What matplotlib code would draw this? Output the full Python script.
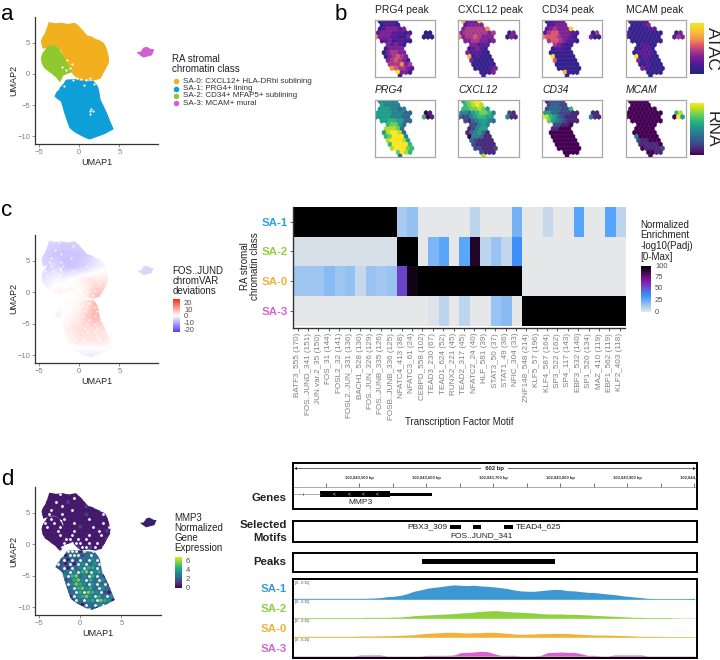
import numpy as np
import matplotlib
matplotlib.use("Agg")
import matplotlib.pyplot as plt
from matplotlib.collections import PolyCollection
from matplotlib.colors import LinearSegmentedColormap
from matplotlib.patches import PathPatch, Rectangle
from matplotlib.path import Path

plt.rcParams['font.family'] = ['Liberation Sans', 'DejaVu Sans']

W, H = 720, 660

# cluster outlines (x, y in UMAP units)
sa0_outline = [(-4.7, 5.2), (-4.5, 5.9), (-4.3, 6.2), (-4.0, 7.2), (-3.75, 8.2), (-3.0, 8.0), (-2.2, 8.1), (-1.4, 7.9),
               (-0.55, 8.1), (0.0, 7.5), (0.5, 6.75), (1.0, 6.05), (1.5, 5.9), (1.95, 5.55), (2.5, 5.3), (3.0, 4.9),
               (3.3, 4.2), (3.5, 3.3), (3.65, 2.5), (3.6, 1.7), (3.1, 0.5), (2.6, -0.7), (1.75, -1.0), (1.0, -0.8),
               (0.1, -1.0), (-0.65, -0.15), (-1.2, 0.8), (-1.8, 1.7), (-2.0, 2.8), (-2.2, 3.8), (-3.25, 4.6),
               (-4.5, 4.1)]
sa2_outline = [(-4.5, 3.3), (-3.9, 4.35), (-3.2, 4.5), (-2.6, 4.1), (-2.0, 2.75), (-1.4, 1.45), (-0.95, 0.35),
               (-2.0, -0.15), (-2.4, -1.2), (-2.9, -0.4), (-3.65, 0.35), (-4.3, 1.0), (-4.6, 1.7), (-4.7, 2.5)]
sa1_outline = [(-2.4, -2.3), (-1.9, -1.6), (-1.6, -1.0), (-0.55, -0.9), (0.5, -1.1), (1.75, -1.2), (2.2, -1.9),
               (2.4, -2.6), (2.6, -4.15), (3.0, -5.2), (3.4, -6.3), (3.8, -7.6), (4.2, -8.8), (3.2, -9.5),
               (2.15, -10.0), (1.3, -10.4), (0.7, -10.1), (0.1, -9.7), (-0.6, -9.2), (-1.15, -8.6), (-1.5, -7.4),
               (-1.8, -6.2), (-2.2, -4.4), (-3.0, -3.6), (-2.8, -3.0), (-2.4, -2.5)]
sa3_outline = [(7.25, 3.4), (7.7, 3.5), (8.0, 4.1), (8.4, 4.25), (8.9, 3.9), (9.25, 3.85), (9.0, 3.05), (8.0, 2.7),
               (7.6, 3.05)]

# small empty spots inside the clusters of panel a
a_gap_x = [-1.2, -0.8, -0.3, 0.2, 0.9, 1.3, 1.5, 1.3, 1.7, 1.4, -1.6, -1.2, -2.2, -0.9, -1.5, -1.9, 0.6, 1.9]
a_gap_y = [-0.5, -0.9, -0.6, -0.8, -0.9, -0.6, -5.6, -6.0, -5.9, -6.4, 0.6, 0.9, 1.1, 1.6, 2.2, -1.9, -1.7, -1.6]

class_names = ['SA-0: CXCL12+ HLA-DRhi sublining', 'SA-1: PRG4+ lining',
               'SA-2: CD34+ MFAP5+ sublining', 'SA-3: MCAM+ mural']
class_colors = ['#f2b01e', '#0f9fd8', '#90c92f', '#d060d0']

# panel b, one digit per hexagon (0-9), blank = no cell
atac_titles = ['PRG4 peak', 'CXCL12 peak', 'CD34 peak', 'MCAM peak']
rna_titles = ['PRG4', 'CXCL12', 'CD34', 'MCAM']
prg4_peak = [" 01111", " 12221", " 1233323", "233322212   00", "633322113   011", " 22312211", "   32321",
             "  13333", "  034433", "  134543", "   345431", "   444634", "    654432", "     9331", "      0"]
cxcl12_peak = [" 72229", " 23333", " 3444446", "344444434   13", "634454333   132", " 33443323", "   33222",
               "  12321", "  322211", "  712111", "   311111", "   111111", "    111123", "     1113", "      1"]
cd34_peak = [" 11222", " 22333", " 2343338", "245533322   14", "655543321   311", " 45543221", "   43211",
             "  12211", "  111111", "  911111", "   511111", "   111111", "    111111", "     7111", "      0"]
mcam_peak = [" 11111", " 11123", " 1111122", "211111111   13", "211111111   243", " 11111111", "   12211",
             "  11221", "  122221", "  912211", "   312111", "   112111", "    321111", "     1111", "      0"]
prg4_rna = [" 44444", " 54444", " 5554434", "555544433   01", "555544433   601", " 55665533", "   67753",
            "  88873", "  589983", "  679994", "   899985", "   699996", "    899976", "     7986", "      3"]
cxcl12_rna = [" 57899", " 67898", " 6677875", "443567764   21", "322456655   411", " 21345543", "   22454",
              "  12455", "  134531", "  044311", "   321111", "   211111", "    221112", "     2111", "      8"]
cd34_rna = [" 12222", " 23322", " 2333226", "553322211   11", "986532111   411", " 75432111", "   22110",
            "  11000", "  000000", "  000000", "   000000", "   000000", "    000000", "     0000", "      0"]
mcam_rna = [" 00000", " 00000", " 0000000", "000000000   68", "000000000   095", " 00000000", "   00000",
            "  00000", "  000000", "  400000", "   211000", "   111110", "    011112", "     0011", "      0"]

# panel c, chromVAR deviations on a coarse grid
dev_x = [-5, -4, -3, -2, -1, 0, 1, 2, 3, 4, 5]
dev_y = [8, 6, 4, 2, 0, -2, -4, -6, -8, -10]
dev_values = [[-4, -4, -4, -5, -5, -4, -3, -2, -2, -2, -2],
              [-4, -5, -6, -6, -6, -6, -5, -3, -2, -2, -2],
              [-4, -5, -4, -6, -6, -5, -4, -2, -1, 0, 0],
              [-3, -2, -1, -1, 0, 1, 2, 2, 2, 2, 2],
              [-1, -1, 1, 1, 1, 0, 2, 5, 5, 2, 2],
              [0, 0, -1, 0, 0, 1, 3, 7, 6, 2, 2],
              [-2, -2, -2, 0, 1, 2, 5, 7, 5, 2, 2],
              [-1, -1, -1, 1, 2, 3, 3, 3, 3, 2, 1],
              [-1, -1, -1, 1, 1, 2, 2, 2, 2, 1, 0],
              [-2, -2, -2, -2, -2, -2, -2, -2, -2, -2, -2]]

# heatmap of panel c
motifs = ['BATF3_555 (170)', 'FOS..JUND_341 (151)', 'JUN.var.2_35 (150)', 'FOS_31 (144)', 'FOSL2_32 (141)',
          'FOSL2..JUN_331 (136)', 'BACH1_528 (130)', 'FOS..JUN_326 (129)', 'FOS..JUNB_335 (126)',
          'FOSB..JUNB_336 (125)', 'NFATC4_413 (38)', 'NFATC3_61 (24)', 'CEBPD_558 (102)', 'TEAD3_230 (67)',
          'TEAD1_624 (52)', 'RUNX2_221 (45)', 'TEAD2_317 (45)', 'NFATC2_24 (40)', 'HLF_581 (39)', 'STAT3_50 (37)',
          'STAT1_49 (36)', 'NFIC_304 (33)', 'ZNF148_548 (214)', 'KLF5_57 (196)', 'KLF4_587 (164)', 'SP3_522 (162)',
          'SP4_117 (143)', 'EBF3_532 (140)', 'SP1_520 (134)', 'MAZ_410 (119)', 'EBF1_562 (119)', 'KLF2_403 (118)']
heat_rows = ['SA-1', 'SA-2', 'SA-0', 'SA-3']
row_colors = ['#2aa4dc', '#93cf3a', '#f3b13c', '#d666cf']
sa1_heat = [100] * 10 + [12, 16, 0, 0, 0, 0, 0, 8, 0, 0, 0, 22, 0, 0, 6, 0, 0, 28, 0, 0, 28, 8]
sa2_heat = [3] * 10 + [100, 100, 0, 20, 27, 0, 27, 92, 8, 15, 7, 35] + [0] * 10
sa0_heat = [14, 14, 14, 18, 14, 16, 6, 15, 13, 15, 55, 95] + [100] * 10 + [0] * 10
sa3_heat = [0] * 13 + [2, 8, 0, 8, 0, 0, 15, 18, 0] + [100] * 10

# panel d, MMP3 expression per small patch: '.' = gap between cells
mmp3_map = ["00000.00000.00000000", "00000000.00100.00000", "0000.0010000.0000000", "00000.00000100.00000",
            "000.0000.000000.0000", "00.00.000001000.0100", "000.00.00000.0000000", "0.0.0000.000000.0000",
            "00.00.0000100.000.00", "0000.000.00000.01000", "00000.00.000.00.0000", "000000..0.0.00001000",
            "000000.0...0.0.00000", "00000.0..1..1.0.0000", "00000.....0.2.1.0000", "00000.0...12.2.10000",
            "000000.0.1.2.3.10000", "0000.10.0.3.23.11000", "000011.0.23.44.20000", "0000012.3.45.34.0000",
            "0000003.4523.4.20000", "00000012453.42.31000", "0000000.3543.3.2.000", "00000002.45342.32000",
            "000000012.4.543.1000", "00000000.3453.42.300", "000000000.2.34.5430", "00000000010.2.3.2000",
            "000000000000.10.0000"]

# browser tracks, positions in bp
bp_left, bp_right = 102843401, 102844003
bp_labels = [102843500, 102843600, 102843700, 102843800, 102843900, 102844000]
gene_thick = (102843441, 102843546)
gene_utr = (102843546, 102843608)
gene_chevrons = [102843463, 102843485, 102843505, 102843527]
motif_boxes = [(102843635, 102843652), (102843669, 102843682), (102843716, 102843729)]
peak_span = (102843593, 102843792)
# signal in thousandths, one reading every 10 bp
sa1_signal = [8, 8, 8, 8, 8, 8, 8, 8, 8, 8,
              8, 9, 11, 14, 22, 25, 33, 47, 67, 78,
              92, 100, 106, 114, 120, 117, 114, 117, 111, 108,
              103, 97, 89, 78, 70, 67, 67, 72, 78, 83,
              81, 72, 70, 64, 58, 56, 50, 44, 39, 31,
              25, 19, 14, 8, 6, 6, 6, 6, 6, 7, 8]
sa2_signal = [6, 6, 6, 6, 6, 6, 6, 6, 6, 6,
              6, 8, 8, 8, 8, 10, 11, 16, 22, 25,
              28, 31, 33, 36, 39, 44, 47, 52, 58, 61,
              64, 61, 56, 53, 50, 47, 44, 39, 36, 36,
              36, 33, 33, 31, 28, 25, 22, 19, 17, 14,
              11, 8, 8, 6, 6, 6, 6, 4, 3, 3, 3]
sa0_signal = [8, 8, 8, 8, 8, 8, 8, 8, 8, 8,
              11, 11, 11, 12, 14, 15, 17, 19, 22, 28,
              33, 36, 39, 42, 42, 38, 36, 38, 39, 42,
              42, 38, 33, 28, 25, 26, 28, 31, 31, 33,
              33, 31, 28, 25, 22, 20, 19, 18, 17, 15,
              14, 11, 8, 8, 8, 7, 6, 6, 6, 6, 6]
sa3_signal = [3, 3, 3, 3, 3, 3, 3, 3, 3, 3,
              11, 11, 11, 11, 3, 3, 3, 3, 3, 3,
              8, 8, 8, 8, 11, 31, 33, 36, 42, 39,
              22, 8, 8, 8, 3, 3, 3, 8, 31, 33,
              36, 33, 33, 22, 8, 8, 3, 3, 11, 11,
              11, 11, 11, 3, 3, 3, 3, 3, 3, 3, 3]
track_bp = [bp_left + 10 * i for i in range(len(sa1_signal))]

fig = plt.figure(figsize=(7.2, 6.6), dpi=100)


def add_px_axes(x0, y0, x1, y1):
    # axes placed by pixel box, y counted from the top
    return fig.add_axes([x0 / W, 1 - y1 / H, (x1 - x0) / W, (y1 - y0) / H])


def umap_axes(x0, y0, x1, y1):
    ax = add_px_axes(x0, y0, x1, y1)
    ax.set_xlim(-5.5, 9.8)
    ax.set_ylim(-11.2, 9.1)
    ax.set_xticks([-5, 0, 5])
    ax.set_yticks([-10, -5, 0, 5])
    ax.tick_params(labelsize=5.5, colors='#7f7f7f', length=2, width=0.6, pad=1.5)
    ax.spines[['top', 'right']].set_visible(False)
    ax.spines[['left', 'bottom']].set_color('#333333')
    ax.spines[['left', 'bottom']].set_linewidth(0.9)
    ax.set_xlabel('UMAP1', fontsize=6.5, color='#222222', labelpad=1.5)
    ax.set_ylabel('UMAP2', fontsize=6.5, color='#222222', labelpad=-0.8)
    return ax


def closed_path(points):
    return Path(list(points) + [points[0]], closed=True)


# overlay for free text, in pixels
ov = fig.add_axes([0, 0, 1, 1])
ov.set_xlim(0, W)
ov.set_ylim(H, 0)
ov.axis('off')
ov.set_zorder(10)

for letter, lx, ly in [('a', 1, 20), ('b', 335, 20), ('c', 1, 216), ('d', 1, 485)]:
    ov.text(lx, ly, letter, fontsize=16, va='baseline', ha='left', color='black')

# ---- panel a ----
ax_a = umap_axes(35, 17, 158, 144)
for outline, color in zip([sa1_outline, sa0_outline, sa2_outline, sa3_outline], [class_colors[1], class_colors[0],
                                                                                 class_colors[2], class_colors[3]]):
    xs, ys = zip(*outline)
    ax_a.fill(xs, ys, color=color, lw=0.8, joinstyle='round')
ax_a.scatter(a_gap_x, a_gap_y, color='white', s=2.5, lw=0)

ov.text(172.5, 59, 'RA stromal', fontsize=7, va='center', color='#222222')
ov.text(172.5, 69, 'chromatin class', fontsize=7, va='center', color='#222222')
for i, (name, color) in enumerate(zip(class_names, class_colors)):
    ly = 81.3 + 7.25 * i
    ov.plot([176], [ly], 'o', ms=4, color=color, mew=0)
    ov.text(183.3, ly, name, fontsize=5.8, va='center', color='#333333')

# ---- panel b ----
atac_cmap = LinearSegmentedColormap.from_list(
    'atac', ['#24247f', '#35208c', '#5a1a96', '#7d2195', '#a83a86', '#d8556f', '#f08c4c', '#f8b040', '#f5d030',
             '#f2e620'])
panel_left = [375, 458.5, 542, 625.5]


def hex_panel(ax, rows, cmap):
    polys, vals = [], []
    for r, row in enumerate(rows):
        for c, ch in enumerate(row):
            if ch == ' ':
                continue
            cx = c + 0.5 * (r % 2)
            polys.append([(cx, r - 0.66), (cx + 0.5, r - 0.33), (cx + 0.5, r + 0.33),
                          (cx, r + 0.66), (cx - 0.5, r + 0.33), (cx - 0.5, r - 0.33)])
            vals.append(int(ch))
    pc = PolyCollection(polys, array=np.array(vals), cmap=cmap, clim=(0, 9), linewidths=0.3, edgecolors='face')
    ax.add_collection(pc)
    ax.set_xlim(-0.25, 14.75)
    ax.set_ylim(14.2, -0.3)
    ax.set_xticks([])
    ax.set_yticks([])
    for s in ax.spines.values():
        s.set_color('#a8a8a8')
        s.set_linewidth(0.9)


for i, (title, rows) in enumerate(zip(atac_titles, [prg4_peak, cxcl12_peak, cd34_peak, mcam_peak])):
    ax = add_px_axes(panel_left[i], 20, panel_left[i] + 60, 77)
    hex_panel(ax, rows, atac_cmap)
    ov.text(panel_left[i], 10, title, fontsize=7.5, va='center', color='#222222')
for i, (title, rows) in enumerate(zip(rna_titles, [prg4_rna, cxcl12_rna, cd34_rna, mcam_rna])):
    ax = add_px_axes(panel_left[i], 100, panel_left[i] + 60, 157)
    hex_panel(ax, rows, 'viridis')
    ov.text(panel_left[i], 90, title, fontsize=7.5, va='center', style='italic', color='#222222')

gradient = np.linspace(1, 0, 128).reshape(-1, 1)
ax = add_px_axes(690, 23, 704, 74)
ax.imshow(gradient, cmap=atac_cmap, aspect='auto')
ax.axis('off')
ax = add_px_axes(690, 103, 704, 155)
ax.imshow(gradient, cmap='viridis', aspect='auto')
ax.axis('off')
ov.text(712.5, 48.5, 'ATAC', fontsize=12.5, rotation=-90, ha='center', va='center', color='#222222')
ov.text(712.5, 129.5, 'RNA', fontsize=12.5, rotation=-90, ha='center', va='center', color='#222222')

# gap positions come from the same patch map as panel d
patch_x, patch_y, patch_v = [], [], []
gap_x, gap_y = [], []
for r, row in enumerate(mmp3_map):
    for c, ch in enumerate(row):
        px = -5 + 0.5 * c + 0.25 * (r % 2)
        py = 8 - 0.65 * r
        if ch == '.':
            gap_x.append(px)
            gap_y.append(py)
        else:
            patch_x.append(px)
            patch_y.append(py)
            patch_v.append(int(ch))

# ---- panel c umap ----
ax_c = umap_axes(35, 235, 158, 362.7)
dev_cmap = LinearSegmentedColormap.from_list('dev', ['#5a3cff', '#ffffff', '#ff2a1a'])
main_shape = Path.make_compound_path(closed_path(sa0_outline), closed_path(sa2_outline), closed_path(sa1_outline))
im = ax_c.imshow(dev_values, extent=(dev_x[0] - 0.5, dev_x[-1] + 0.5, dev_y[-1] - 1, dev_y[0] + 1), cmap=dev_cmap,
                 vmin=-20, vmax=20, aspect='auto', interpolation='bilinear')
im.set_clip_path(PathPatch(main_shape, transform=ax_c.transData))
ax_c.scatter(gap_x, gap_y, color='white', s=3, lw=0, alpha=0.7)
xs, ys = zip(*sa3_outline)
ax_c.fill(xs, ys, color='#dcd6fb', lw=0)
ax_c.set_xlim(-5.5, 9.8)
ax_c.set_ylim(-11.2, 9.1)

for text, ly in zip(['FOS..JUND', 'chromVAR', 'deviations'], [271, 281, 291]):
    ov.text(172.7, ly, text, fontsize=7, va='center', color='#222222')
ax = add_px_axes(172.7, 299, 179, 331.7)
ax.imshow(gradient, cmap=dev_cmap, aspect='auto')
ax.axis('off')
for text, ly in zip(['20', '10', '0', '-10', '-20'], [303.3, 310, 316.7, 323.3, 330]):
    ov.text(184, ly, text, fontsize=5.5, va='center', color='#4d4d4d')

# ---- panel c heatmap ----
comet = LinearSegmentedColormap.from_list('comet', ['#E6E7E8', '#3A97FF', '#8816A7', 'black'])
ax_h = add_px_axes(292.5, 207, 625, 328)
ax_h.imshow([sa1_heat, sa2_heat, sa0_heat, sa3_heat], cmap=comet, vmin=0, vmax=100, aspect='auto',
            extent=(0, 32, 4, 0), interpolation='nearest')
ax_h.set_xlim(0, 32)
ax_h.set_ylim(4.08, 0)
ax_h.set_xticks(np.arange(32) + 0.5)
ax_h.set_xticklabels(motifs, rotation=90, fontsize=5.9, color='#7f7f7f')
ax_h.set_yticks(np.arange(4) + 0.5)
ax_h.set_yticklabels(heat_rows, fontsize=8.2, fontweight='bold')
for lab, color in zip(ax_h.get_yticklabels(), row_colors):
    lab.set_color(color)
ax_h.tick_params(length=2, width=0.6, pad=1.5, color='#444444')
ax_h.spines[['top', 'right']].set_visible(False)
ax_h.spines[['left', 'bottom']].set_color('#333333')
ax_h.spines[['left', 'bottom']].set_linewidth(1.0)
ov.text(459, 422, 'Transcription Factor Motif', fontsize=6.9, ha='center', va='center', color='#222222')
ov.text(250, 266, 'RA stromal\nchromatin class', fontsize=7, rotation=90, ha='center', va='center',
        color='#222222', linespacing=1.05)

for text, ly in zip(['Normalized', 'Enrichment', '-log10(Padj)', '[0-Max]'], [225, 235.5, 246, 256.7]):
    ov.text(640.7, ly, text, fontsize=7, va='center', color='#222222')
ax = add_px_axes(640.7, 266, 650, 312.3)
ax.imshow(gradient, cmap=comet, aspect='auto')
ax.axis('off')
for text, ly in zip(['100', '75', '50', '25', '0'], [266, 277.7, 289, 300.7, 312.3]):
    ov.text(655, ly, text, fontsize=5.5, va='center', color='#4d4d4d')

# ---- panel d umap ----
ax_d = umap_axes(35, 487, 161, 615)
xs, ys = zip(*sa0_outline)
ax_d.fill(xs, ys, color='#43206f', lw=0)
xs, ys = zip(*sa2_outline)
ax_d.fill(xs, ys, color='#43206f', lw=0)
xs, ys = zip(*sa1_outline)
ax_d.fill(xs, ys, color='#2f6f8e', lw=0)
xs, ys = zip(*sa3_outline)
ax_d.fill(xs, ys, color='#3a1d6e', lw=0)

sc = ax_d.scatter(patch_x, patch_y, c=patch_v, cmap='viridis', vmin=-0.4, vmax=6.5, s=7, lw=0)
sc.set_clip_path(PathPatch(main_shape, transform=ax_d.transData))
gaps = ax_d.scatter(gap_x, gap_y, color='white', s=4, lw=0)
gaps.set_clip_path(PathPatch(main_shape, transform=ax_d.transData))

for text, ly in zip(['MMP3', 'Normalized', 'Gene', 'Expression'], [518.3, 528.3, 538.3, 548.3]):
    ov.text(174.7, ly, text, fontsize=7, va='center', color='#222222')
ax = add_px_axes(174.7, 557, 181.3, 588.3)
ax.imshow(gradient, cmap='viridis', aspect='auto')
ax.axis('off')
for text, ly in zip(['6', '4', '2', '0'], [561.7, 570.3, 579.3, 588.3]):
    ov.text(186, ly, text, fontsize=5.5, va='center', color='#4d4d4d')


# ---- browser tracks ----
def track_frame(y0, y1):
    ax = add_px_axes(293, y0, 696.5, y1)
    ax.set_xlim(bp_left, bp_right)
    ax.set_ylim(y1, y0)
    ax.set_xticks([])
    ax.set_yticks([])
    for s in ax.spines.values():
        s.set_linewidth(1.4)
    return ax


ax_g = track_frame(463, 509)
ax_g.plot([bp_left + 3, bp_right - 3], [468.3, 468.3], color='#333333', lw=0.5)
ax_g.plot([bp_left + 3], [468.3], '<', ms=2.2, color='#222222', mew=0)
ax_g.plot([bp_right - 3], [468.3], '>', ms=2.2, color='#222222', mew=0)
ax_g.text((bp_left + bp_right) / 2, 468.3, '  602 bp  ', fontsize=4.2, fontweight='bold', ha='center', va='center',
          color='#222222', bbox=dict(fc='white', ec='none', pad=0.5))
for b in bp_labels:
    ax_g.text(b, 478, f'{b:,} bp', fontsize=3, fontweight='bold', ha='center', va='center', color='#333333',
              clip_on=True)
ax_g.plot([bp_left, bp_right], [487, 487], color='#aaaaaa', lw=0.7)
ax_g.vlines(np.arange(102843450, bp_right, 50), 482.5, 487, color='#444444', lw=0.5)
ax_g.plot([bp_left, gene_thick[0]], [494, 494], color='#888888', lw=0.5)
ax_g.plot([102843416], [494], '|', ms=2, color='#3344cc', mew=0.6)
ax_g.add_patch(Rectangle((gene_thick[0], 491), gene_thick[1] - gene_thick[0], 6.2, color='black', lw=0))
ax_g.add_patch(Rectangle((gene_utr[0], 492.5), gene_utr[1] - gene_utr[0], 3.2, color='black', lw=0))
for b in gene_chevrons:
    ax_g.text(b, 493.8, '<', fontsize=3.5, color='white', ha='center', va='center')
ax_g.text(102843502, 502.7, 'MMP3', fontsize=6, ha='center', va='center', color='#222222')

ax_m = track_frame(520.7, 542.3)
for start, end in motif_boxes:
    ax_m.add_patch(Rectangle((start, 525), end - start, 4, color='black', lw=0))
ax_m.text(102843632, 527, 'PBX3_309', fontsize=6, ha='right', va='center', color='#222222')
ax_m.text(102843733, 527, 'TEAD4_625', fontsize=6, ha='left', va='center', color='#222222')
ax_m.text(102843683, 535.7, 'FOS..JUND_341', fontsize=6, ha='center', va='center', color='#222222')

ax_p = track_frame(553.3, 571.7)
ax_p.add_patch(Rectangle((peak_span[0], 559.4), peak_span[1] - peak_span[0], 4.6, color='black', lw=0))

track_frame(579.3, 657.5)
signals = [sa1_signal, sa2_signal, sa0_signal, sa3_signal]
track_colors = ['#3c97d3', '#8fd03f', '#f3b13c', '#d666cf']
track_base = [599.3, 618.3, 637.3, 656.3]
for sig, color, base in zip(signals, track_colors, track_base):
    ax = add_px_axes(293.5, base - 18, 696, base)
    ax.patch.set_alpha(0)
    ax.fill_between(track_bp, sig, color=color, lw=0)
    ax.set_xlim(bp_left, bp_right)
    ax.set_ylim(0, 150)
    ax.axis('off')
    ov.text(295, base - 16.4, '[0 - 0.15]', fontsize=2.6, va='center', color='#444444')

for text, ly in [('Genes', 497.7), ('Selected', 524.5), ('Motifs', 538), ('Peaks', 561.7)]:
    ov.text(286.7, ly, text, fontsize=8.2, fontweight='bold', ha='right', va='center', color='#222222')
for text, color, ly in zip(heat_rows, track_colors, [589, 609, 629, 648.7]):
    ov.text(286.7, ly, text, fontsize=8.2, fontweight='bold', ha='right', va='center', color=color)

fig.savefig('out.png', dpi=100)
